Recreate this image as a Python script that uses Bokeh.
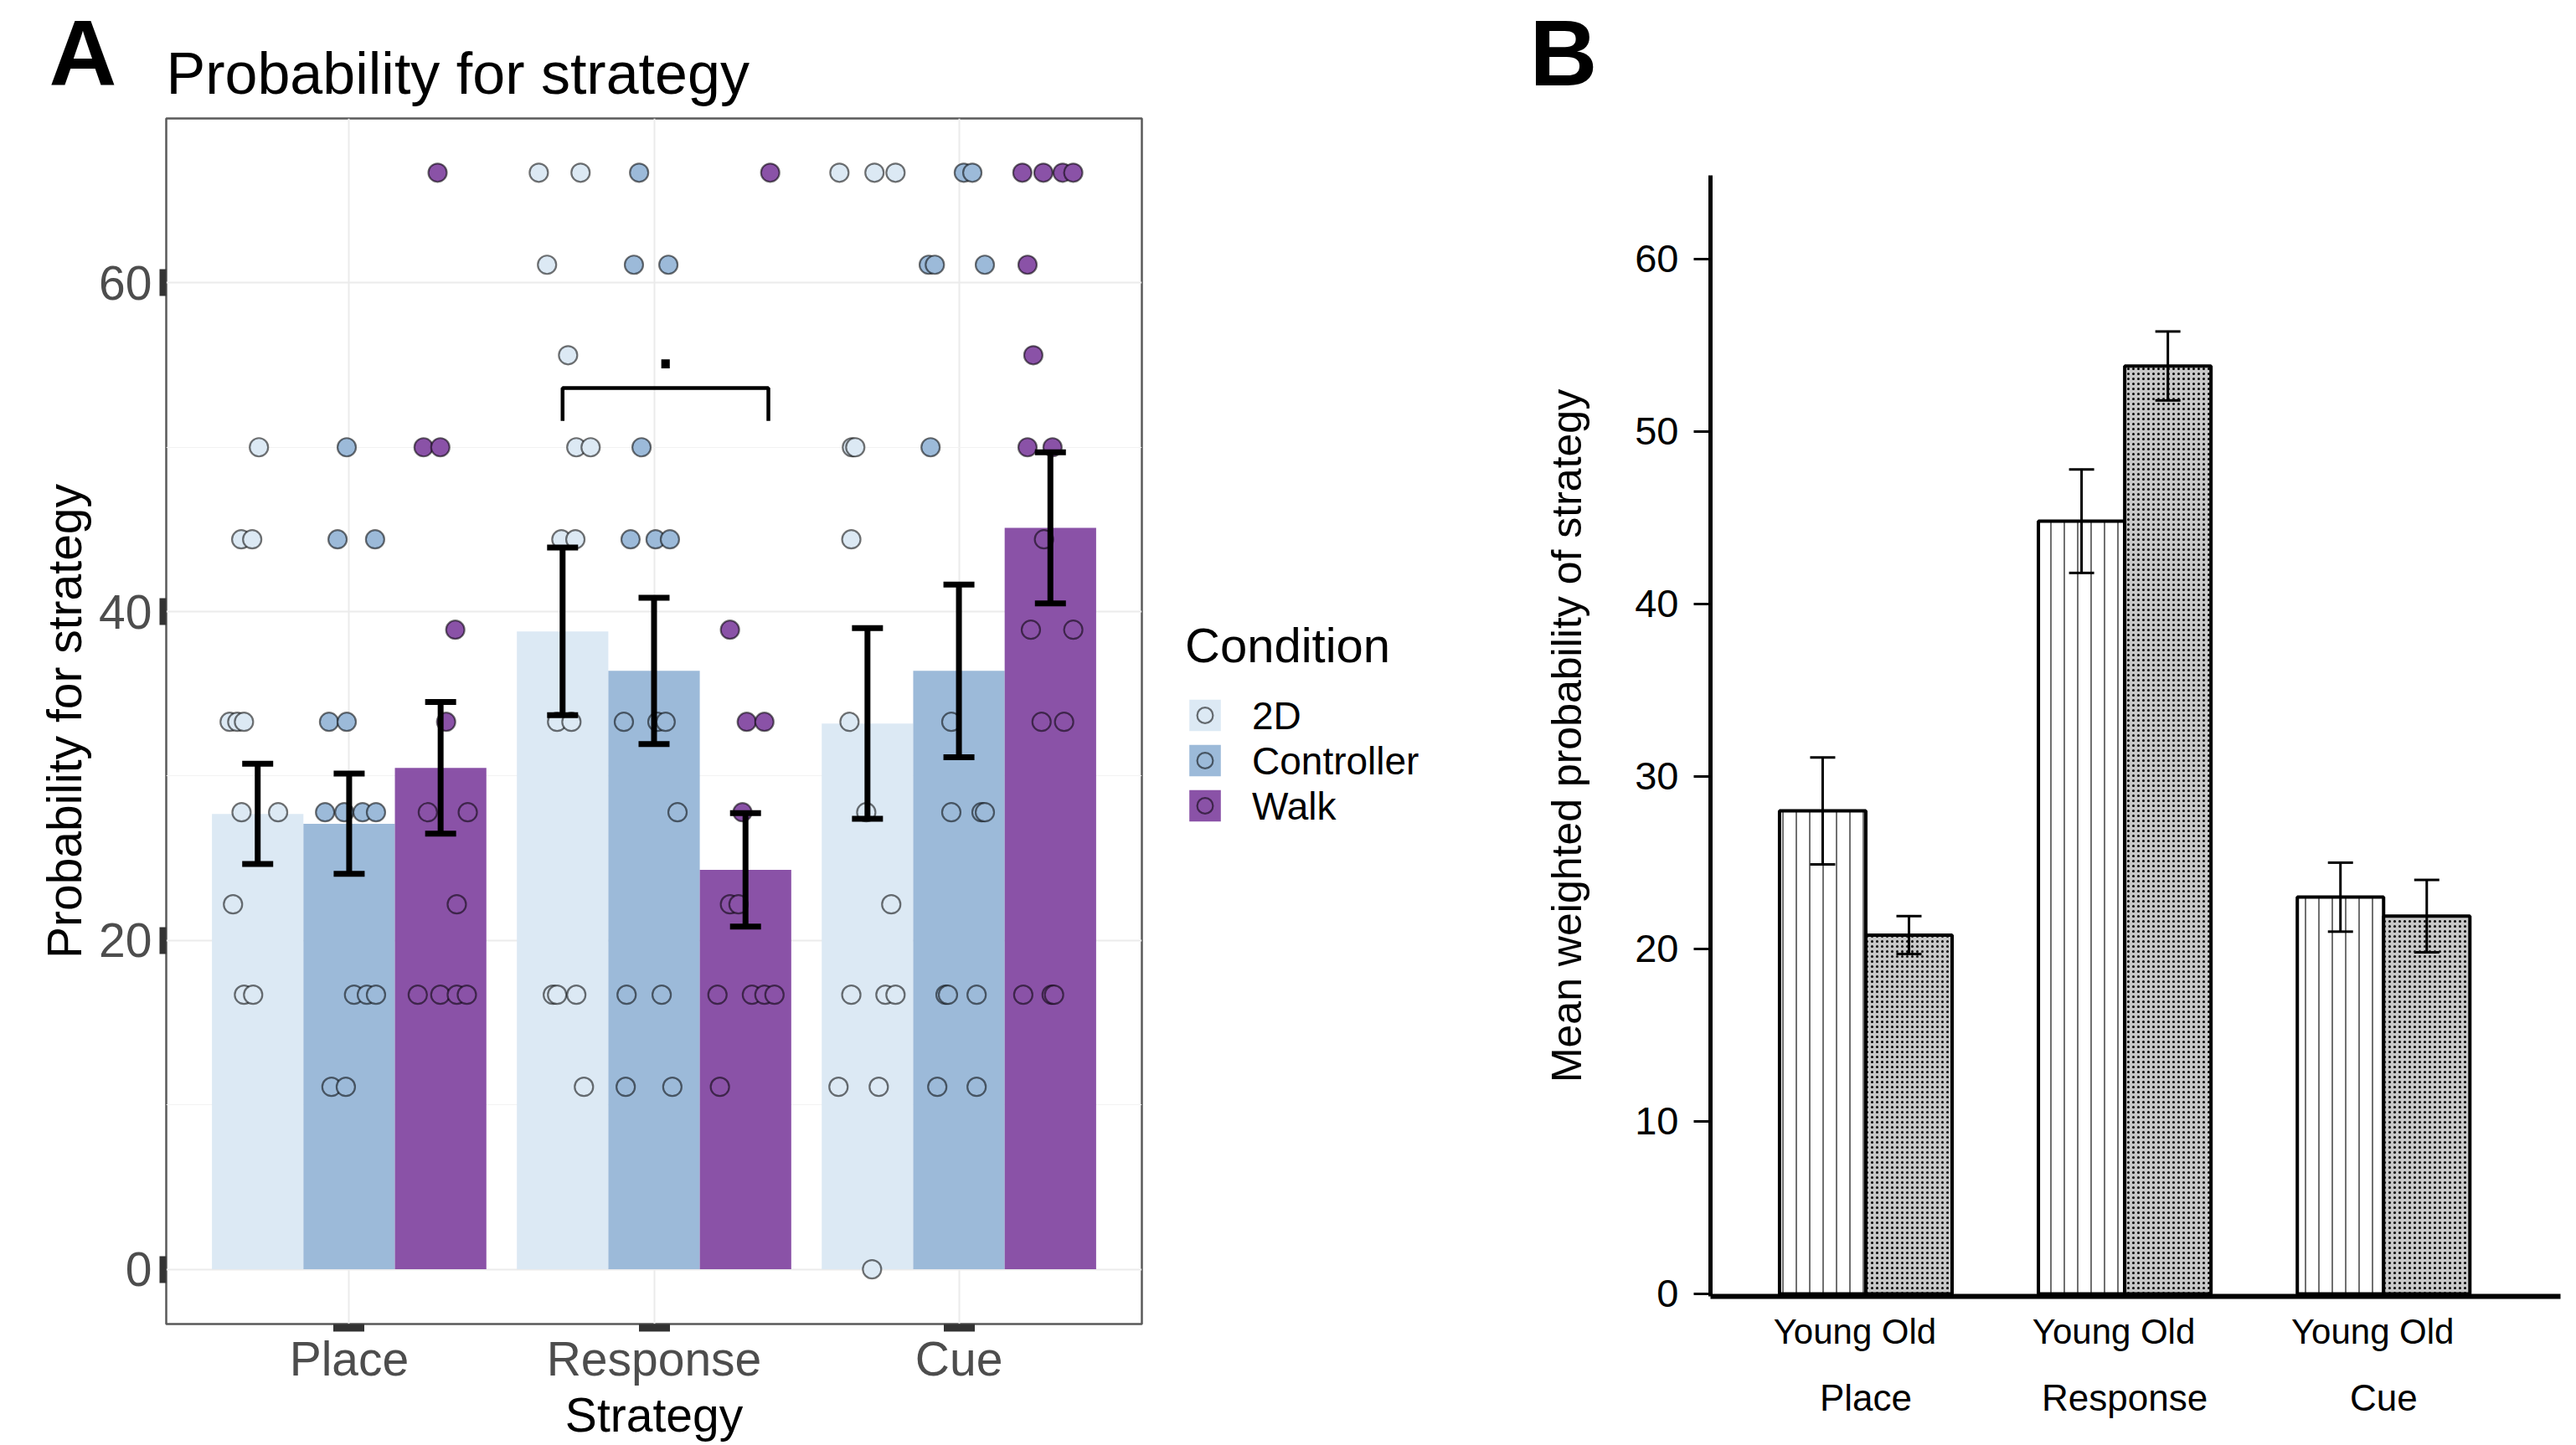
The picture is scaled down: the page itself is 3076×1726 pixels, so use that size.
import numpy as np
from bokeh.plotting import figure
from bokeh.models import (ColumnDataSource, Range1d, FixedTicker, Whisker, TeeHead,
                          Legend, LegendItem, Label, LinearAxis)
from bokeh.layouts import row, column
from bokeh.embed import file_html
from bokeh.resources import INLINE

# ---------------------------------------------------------------- data (A)
strategies = ["Place", "Response", "Cue"]
conditions = ["2D", "Controller", "Walk"]

mean_2d = [27.7, 38.8, 33.2]
mean_controller = [27.1, 36.4, 36.4]
mean_walk = [30.5, 24.3, 45.1]
se_2d = [3.05, 5.1, 5.8]
se_controller = [3.05, 4.45, 5.25]
se_walk = [4.0, 3.45, 4.6]

# individual participants (strategy, probability, horizontal jitter)
pts_2d_strategy = ["Place"] * 11 + ["Response"] * 14 + ["Cue"] * 15
pts_2d_value = [50, 44.4, 44.4, 33.3, 33.3, 33.3, 27.8, 27.8, 22.2, 16.7, 16.7,
                66.7, 66.7, 61.1, 55.6, 50, 50, 44.4, 44.4, 33.3, 33.3, 16.7, 16.7, 16.7, 11.1,
                66.7, 66.7, 66.7, 50, 50, 44.4, 33.3, 27.8, 22.2, 16.7, 16.7, 16.7, 11.1, 11.1, 0]
pts_2d_jitter = [0.004, -0.054, -0.018, -0.092, -0.067, -0.045, -0.053, 0.067, -0.081, -0.045, -0.015,
                 -0.078, 0.059, -0.051, 0.018, 0.045, 0.092, -0.004, 0.042, -0.018, 0.029, -0.032, -0.018, 0.045, 0.070,
                 -0.092, 0.023, 0.092, -0.051, -0.040, -0.053, -0.059, -0.004, 0.078, -0.053, 0.059, 0.092, -0.095, 0.037, 0.015]

pts_controller_strategy = ["Place"] * 14 + ["Response"] * 15 + ["Cue"] * 15
pts_controller_value = [50, 44.4, 44.4, 33.3, 33.3, 27.8, 27.8, 27.8, 27.8, 16.7, 16.7, 16.7, 11.1, 11.1,
                        66.7, 61.1, 61.1, 50, 44.4, 44.4, 44.4, 33.3, 33.3, 33.3, 27.8, 16.7, 16.7, 11.1, 11.1,
                        66.7, 66.7, 61.1, 61.1, 61.1, 50, 33.3, 27.8, 27.8, 27.8, 16.7, 16.7, 16.7, 11.1, 11.1]
pts_controller_jitter = [-0.008, -0.038, 0.085, -0.066, -0.008, -0.079, -0.016, 0.044, 0.088, 0.016, 0.058, 0.088, -0.058, -0.011,
                         -0.049, -0.066, 0.047, -0.041, -0.077, 0.005, 0.052, -0.099, 0.011, 0.038, 0.077, -0.090, 0.025, -0.093, 0.060,
                         0.016, 0.044, -0.099, -0.079, 0.085, -0.093, -0.025, -0.025, 0.074, 0.085, -0.044, -0.036, 0.058, -0.071, 0.058]

pts_walk_strategy = ["Place"] * 12 + ["Response"] * 12 + ["Cue"] * 16
pts_walk_value = [66.7, 50, 50, 38.9, 33.3, 27.8, 27.8, 22.2, 16.7, 16.7, 16.7, 16.7,
                  66.7, 38.9, 33.3, 33.3, 27.8, 22.2, 22.2, 16.7, 16.7, 16.7, 16.7, 11.1,
                  66.7, 66.7, 66.7, 66.7, 61.1, 55.6, 50, 50, 44.4, 38.9, 38.9, 33.3, 33.3, 16.7, 16.7, 16.7]
pts_walk_jitter = [-0.010, -0.056, -0.001, 0.048, 0.018, -0.042, 0.089, 0.053, -0.075, -0.001, 0.053, 0.086,
                   0.081, -0.051, 0.004, 0.062, -0.010, -0.051, -0.023, -0.092, 0.021, 0.062, 0.095, -0.084,
                   -0.092, -0.023, 0.040, 0.075, -0.075, -0.056, -0.075, 0.007, -0.021, -0.064, 0.075, -0.029, 0.045, -0.089, 0.004, 0.012]

yticks_a = [0, 20, 40, 60]
yminor_a = [10, 30, 50, 70]
sig_label = "."
title_a = "Probability for strategy"
panel_letters = ["A", "B"]

# ---------------------------------------------------------------- data (B)
groups_b = ["Place", "Response", "Cue"]
ages_b = ["Young", "Old"]
young_mean = [28.0, 44.8, 23.0]
old_mean = [20.8, 53.8, 21.9]
young_sem = [3.1, 3.0, 2.0]
old_sem = [1.1, 2.0, 2.1]
yticks_b = [0, 10, 20, 30, 40, 50, 60]

# ---------------------------------------------------------------- styles / layout sizes
FONT = "Liberation Sans"
colors_a = ["#dce9f4", "#9cbad9", "#8a52a7"]
TOTAL_W = 3072
TOTAL_H = 1724
HEADER_H = 137
BODY_H = TOTAL_H - HEADER_H
A_W = 198 + 1165 + 2
LEG_W = 1800 - A_W
B_W = TOTAL_W - 1800

# ================================================================ header strip (panel letters + title)
ph = figure(width=TOTAL_W, height=HEADER_H, x_range=Range1d(0, TOTAL_W), y_range=Range1d(HEADER_H, 0),
            x_axis_location=None, y_axis_location=None, toolbar_location=None,
            output_backend="svg", min_border=0)
ph.outline_line_color = None
ph.grid.visible = False
ph.background_fill_color = "white"
ph.border_fill_color = "white"
ph.add_layout(Label(x=58, y=0, text=panel_letters[0], text_font=FONT, text_font_size="112px",
                    text_font_style="bold", text_baseline="top", text_color="black"))
ph.add_layout(Label(x=198, y=48, text=title_a, text_font=FONT, text_font_size="70px",
                    text_baseline="top", text_color="black"))
ph.add_layout(Label(x=1826, y=0, text=panel_letters[1], text_font=FONT, text_font_size="112px",
                    text_font_style="bold", text_baseline="top", text_color="black"))

# ================================================================ panel A
pA = figure(width=A_W, height=BODY_H, x_range=Range1d(0.4, 3.6), y_range=Range1d(-3.33, 70),
            output_backend="svg", toolbar_location=None, frame_align=False,
            min_border_left=198, min_border_right=2, min_border_top=4, min_border_bottom=135)
pA.background_fill_color = "white"
pA.border_fill_color = "white"
pA.outline_line_color = "#5a5a5a"
pA.outline_line_width = 2.5

# legend-only strip between the panels
pL = figure(width=LEG_W, height=BODY_H, x_axis_location=None, y_axis_location=None,
            toolbar_location=None, output_backend="svg", frame_align=False,
            min_border_left=0, min_border_right=0, min_border_top=4, min_border_bottom=140)
pL.outline_line_color = None
pL.grid.visible = False
pL.background_fill_color = "white"
pL.border_fill_color = "white"

means_all = [mean_2d, mean_controller, mean_walk]
ses_all = [se_2d, se_controller, se_walk]
pts_all = [(pts_2d_strategy, pts_2d_value, pts_2d_jitter),
           (pts_controller_strategy, pts_controller_value, pts_controller_jitter),
           (pts_walk_strategy, pts_walk_value, pts_walk_jitter)]
bar_w = 0.3
items = []
whisker_sources = []
nan1 = np.array([np.nan])
for ci, cond in enumerate(conditions):
    dodge = (ci - (len(conditions) - 1) / 2) * bar_w
    xs = [si + 1 + dodge for si in range(len(strategies))]
    m = means_all[ci]
    s = ses_all[ci]
    src = ColumnDataSource(dict(x=xs, top=m,
                                lower=[a - b for a, b in zip(m, s)],
                                upper=[a + b for a, b in zip(m, s)]))
    pA.vbar(x="x", top="top", bottom=0, width=bar_w, source=src,
            fill_color=colors_a[ci], line_color=None)
    st, vals, jit = pts_all[ci]
    px = [strategies.index(a) + 1 + dodge + j for a, j in zip(st, jit)]
    psrc = ColumnDataSource(dict(x=px, y=vals))
    pA.scatter(x="x", y="y", source=psrc, size=22, marker="circle",
               fill_color=colors_a[ci], line_color="black", line_alpha=0.55, line_width=2.2)
    # legend keys (same styling; no visible marks in the strip itself)
    kb = pL.vbar(x=nan1, top=nan1, bottom=0, width=bar_w, fill_color=colors_a[ci], line_color=None)
    kp = pL.scatter(x=nan1, y=nan1, size=22, marker="circle", fill_color=colors_a[ci],
                    line_color="black", line_alpha=0.55, line_width=2.2)
    items.append(LegendItem(label=cond, renderers=[kb, kp]))
    whisker_sources.append(src)

for src in whisker_sources:
    w = Whisker(source=src, base="x", lower="lower", upper="upper", line_width=7, line_color="black",
                level="overlay",
                upper_head=TeeHead(size=37, line_width=7, line_color="black"),
                lower_head=TeeHead(size=37, line_width=7, line_color="black"))
    pA.add_layout(w)

# significance bracket (Response: 2D vs Walk)
br_x0, br_x1, br_y, br_tip = 1.7, 2.375, 53.6, 2.0
pA.line(x=[br_x0, br_x0, br_x1, br_x1], y=[br_y - br_tip, br_y, br_y, br_y - br_tip],
        line_color="black", line_width=4.5)
pA.add_layout(Label(x=(br_x0 + br_x1) / 2, y=br_y + 2.45, text=sig_label, text_align="center",
                    text_baseline="alphabetic", text_font=FONT, text_font_size="72px",
                    text_font_style="bold", text_color="black"))

# axes
pA.xaxis.ticker = FixedTicker(ticks=[i + 1 for i in range(len(strategies))])
pA.xaxis.major_label_overrides = {i + 1: s for i, s in enumerate(strategies)}
pA.xaxis.axis_label = "Strategy"
pA.yaxis.ticker = FixedTicker(ticks=yticks_a, minor_ticks=yminor_a)
pA.yaxis.axis_label = "Probability for strategy"
for ax in (pA.xaxis[0], pA.yaxis[0]):
    ax.axis_line_color = None
    ax.major_tick_line_color = "#333333"
    ax.major_tick_in = 0
    ax.minor_tick_line_color = None
    ax.major_label_text_font = FONT
    ax.major_label_text_font_size = "57px"
    ax.major_label_text_color = "#4d4d4d"
    ax.axis_label_text_font = FONT
    ax.axis_label_text_font_size = "57px"
    ax.axis_label_text_font_style = "normal"
    ax.axis_label_text_color = "black"
pA.xaxis.major_tick_line_width = 37
pA.xaxis.major_tick_out = 9
pA.xaxis.major_label_standoff = 0
pA.xaxis.axis_label_standoff = 0
pA.yaxis.major_tick_line_width = 32
pA.yaxis.major_tick_out = 8
pA.yaxis.major_label_standoff = 9
pA.yaxis.axis_label_standoff = 6

pA.xgrid.grid_line_color = "#ebebeb"
pA.xgrid.grid_line_width = 2
pA.ygrid.grid_line_color = "#ebebeb"
pA.ygrid.grid_line_width = 2
pA.ygrid.minor_grid_line_color = "#f2f2f2"
pA.ygrid.minor_grid_line_width = 1.2

legend = Legend(items=items, title="Condition", location="center_left",
                title_text_font=FONT, title_text_font_size="58px", title_text_font_style="normal",
                title_text_color="black", title_standoff=24,
                label_text_font=FONT, label_text_font_size="46px", label_text_color="black",
                label_standoff=33, glyph_width=47, glyph_height=47, spacing=-4,
                padding=0, margin=50, border_line_color=None, background_fill_alpha=0)
pL.add_layout(legend)

# ================================================================ panel B
pB = figure(width=B_W, height=BODY_H, x_range=Range1d(-0.80, 9.05),
            y_range=Range1d(-0.15, 64.85),
            output_backend="svg", toolbar_location=None, frame_align=False,
            min_border_left=242, min_border_right=B_W - 242 - 1015, min_border_top=209 - HEADER_H,
            min_border_bottom=TOTAL_H - 1548)
pB.background_fill_color = "white"
pB.border_fill_color = "white"
pB.outline_line_color = None
pB.grid.visible = False

group_step = len(ages_b) + 1
xs_young = [gi * group_step + 0 + 0.5 for gi in range(len(groups_b))]
xs_old = [gi * group_step + 1 + 0.5 for gi in range(len(groups_b))]
src_y = ColumnDataSource(dict(x=xs_young, top=young_mean,
                              lower=[a - b for a, b in zip(young_mean, young_sem)],
                              upper=[a + b for a, b in zip(young_mean, young_sem)]))
src_o = ColumnDataSource(dict(x=xs_old, top=old_mean,
                              lower=[a - b for a, b in zip(old_mean, old_sem)],
                              upper=[a + b for a, b in zip(old_mean, old_sem)]))
pB.vbar(x="x", top="top", bottom=0, width=1.0, source=src_y, fill_color="white",
        line_color="black", line_width=4, hatch_pattern="vertical_line", hatch_scale=16,
        hatch_weight=2, hatch_color="#333333", hatch_alpha=0.7)
pB.vbar(x="x", top="top", bottom=0, width=1.0, source=src_o, fill_color="#c8c8c8",
        line_color="black", line_width=4, hatch_pattern="dot", hatch_scale=6,
        hatch_weight=2, hatch_color="black")
for src in (src_y, src_o):
    pB.add_layout(Whisker(source=src, base="x", lower="lower", upper="upper", line_width=3,
                          line_color="black", level="overlay",
                          upper_head=TeeHead(size=30, line_width=3, line_color="black"),
                          lower_head=TeeHead(size=30, line_width=3, line_color="black")))

yb = pB.yaxis[0]
yb.ticker = FixedTicker(ticks=yticks_b)
yb.axis_line_width = 5
yb.axis_line_color = "black"
yb.major_tick_out = 20
yb.major_tick_in = 0
yb.major_tick_line_width = 3
yb.minor_tick_line_color = None
yb.major_label_text_font = FONT
yb.major_label_text_font_size = "47px"
yb.major_label_text_color = "black"
yb.major_label_standoff = 18
yb.axis_label = "Mean weighted probability of strategy"
yb.axis_label_text_font = FONT
yb.axis_label_text_font_size = "50px"
yb.axis_label_text_font_style = "normal"
yb.axis_label_text_color = "black"
yb.axis_label_standoff = 50

xb = pB.xaxis[0]
sub_ticks = sorted(xs_young + xs_old)
xb.ticker = FixedTicker(ticks=sub_ticks)
xb.major_label_overrides = {**{x: ages_b[0] for x in xs_young}, **{x: ages_b[1] for x in xs_old}}
xb.axis_line_width = 6
xb.axis_line_color = "black"
xb.major_tick_line_color = None
xb.major_tick_out = 0
xb.major_tick_in = 0
xb.minor_tick_line_color = None
xb.major_label_text_font = FONT
xb.major_label_text_font_size = "42px"
xb.major_label_text_color = "black"
xb.major_label_standoff = 18

group_centers = [gi * group_step + len(ages_b) / 2 for gi in range(len(groups_b))]
xg = LinearAxis(ticker=FixedTicker(ticks=group_centers),
                major_label_overrides={c: g for c, g in zip(group_centers, groups_b)},
                axis_line_color=None, major_tick_line_color=None, major_tick_out=0, major_tick_in=0,
                minor_tick_line_color=None, major_label_text_font=FONT,
                major_label_text_font_size="44px", major_label_text_color="black",
                major_label_standoff=28)
pB.add_layout(xg, "below")

layout = column(ph, row(pA, pL, pB))
open("out.html", "w").write(file_html(layout, INLINE))
